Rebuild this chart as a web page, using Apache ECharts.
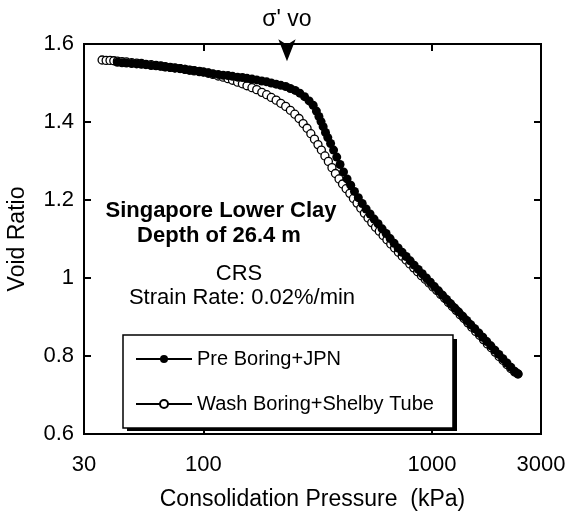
<!DOCTYPE html>
<html>
<head>
<meta charset="utf-8">
<script src="https://cdn.jsdelivr.net/npm/echarts@6/dist/echarts.min.js"></script>
<style>
  html, body { margin: 0; padding: 0; background: #fff; }
  #chart { width: 571px; height: 512px; }
</style>
</head>
<body>
<div id="chart"></div>
<script>
// pressure (kPa), void ratio
const preBoringJPN = [
  [42, 1.553], [44, 1.552], [46, 1.551], [48.5, 1.550], [51, 1.549], [53.5, 1.548], [56, 1.547],
  [59, 1.545], [62, 1.544], [65, 1.543], [68, 1.541], [71.5, 1.540], [75, 1.538], [79, 1.537],
  [83, 1.535], [87, 1.533], [91, 1.532], [96, 1.530], [100, 1.528], [105, 1.526], [110, 1.524],
  [116, 1.522], [122, 1.520], [128, 1.519], [134, 1.517], [141, 1.515], [148, 1.514], [155, 1.512],
  [163, 1.510], [171, 1.508], [180, 1.505], [189, 1.503], [198, 1.500], [208, 1.497], [218, 1.494],
  [229, 1.491], [240, 1.486], [252, 1.481], [264, 1.474], [277, 1.465], [290, 1.454], [302, 1.443],
  [312, 1.428], [320, 1.414], [327, 1.401], [334, 1.388], [342, 1.373], [350, 1.360], [360, 1.345],
  [371, 1.328], [383, 1.310], [396, 1.291], [410, 1.272], [425, 1.254], [441, 1.238], [458, 1.222],
  [476, 1.206], [495, 1.191], [515, 1.177], [536, 1.164], [558, 1.151], [581, 1.139], [605, 1.126],
  [630, 1.114], [656, 1.101], [683, 1.089], [711, 1.077], [740, 1.066], [771, 1.055], [803, 1.044],
  [836, 1.033], [871, 1.022], [907, 1.011], [945, 1.000], [984, 0.989], [1025, 0.978], [1068, 0.967],
  [1112, 0.956], [1158, 0.945], [1206, 0.934], [1256, 0.923], [1308, 0.913], [1362, 0.902],
  [1419, 0.891], [1478, 0.880], [1539, 0.870], [1603, 0.859], [1669, 0.848], [1738, 0.837],
  [1810, 0.826], [1885, 0.815], [1963, 0.804], [2044, 0.793], [2129, 0.782], [2217, 0.771],
  [2309, 0.760], [2379, 0.754]
];

const washBoringShelby = [
  [36, 1.559], [37.5, 1.558], [39, 1.558], [40.5, 1.557], [42, 1.556], [44, 1.555], [46, 1.554],
  [48.5, 1.552], [51, 1.551], [53.5, 1.550], [56, 1.548], [59, 1.547], [62, 1.545], [65, 1.544],
  [68, 1.542], [71.5, 1.540], [75, 1.539], [79, 1.537], [83, 1.535], [87, 1.533], [91, 1.531],
  [96, 1.529], [100, 1.528], [105, 1.525], [110, 1.522], [116, 1.518], [122, 1.515], [128, 1.511],
  [134, 1.507], [141, 1.502], [148, 1.498], [155, 1.493], [163, 1.488], [171, 1.483], [180, 1.476],
  [189, 1.470], [198, 1.463], [208, 1.456], [218, 1.448], [229, 1.440], [240, 1.430], [251, 1.420],
  [262, 1.409], [273, 1.396], [284, 1.384], [295, 1.370], [306, 1.356], [317, 1.342], [328, 1.328],
  [340, 1.313], [352, 1.299], [365, 1.283], [378, 1.268], [392, 1.254], [406, 1.241], [421, 1.229],
  [437, 1.217], [453, 1.204], [470, 1.192], [488, 1.179], [506, 1.166], [525, 1.154], [545, 1.142],
  [566, 1.130], [588, 1.120], [611, 1.109], [635, 1.098], [660, 1.087], [686, 1.077], [713, 1.066],
  [741, 1.056], [770, 1.046], [800, 1.036], [832, 1.026], [865, 1.016], [899, 1.006], [934, 0.997],
  [971, 0.987], [1010, 0.977], [1050, 0.968], [1092, 0.958], [1136, 0.948], [1181, 0.937],
  [1228, 0.927], [1277, 0.917], [1328, 0.906], [1381, 0.896], [1436, 0.885], [1493, 0.874],
  [1553, 0.863], [1615, 0.853], [1680, 0.842], [1747, 0.831], [1817, 0.821], [1890, 0.810],
  [1966, 0.799], [2045, 0.789], [2127, 0.778], [2212, 0.768], [2300, 0.759], [2379, 0.754]
];

const seriesNames = ['Pre Boring+JPN', 'Wash Boring+Shelby Tube'];
const sigmaVo = 232;          // kPa, marked by the arrow
const xRange = [30, 3000];
const yRange = [0.6, 1.6];
const notes = [
  { text: 'Singapore Lower Clay', bold: true },
  { text: 'Depth of 26.4 m', bold: true },
  { text: 'CRS', bold: false },
  { text: 'Strain Rate: 0.02%/min', bold: false }
];

const FONT = '"Liberation Sans", Arial, Helvetica, sans-serif';
const chart = echarts.init(document.getElementById('chart'), null, { renderer: 'canvas' });

const tick = { show: true, inside: true, length: 7, lineStyle: { color: '#000', width: 2 } };
const noLine = { show: false };

function xAxis(pos, labels) {
  return {
    type: 'log', logBase: 10, min: xRange[0], max: xRange[1], position: pos,
    axisLine: noLine, axisTick: tick, splitLine: { show: false }, minorTick: { show: false },
    axisLabel: {
      show: labels, color: '#000', fontSize: 22, fontFamily: FONT, margin: 20,
      formatter: function (v) { return String(Math.round(v)); }
    }
  };
}
function yAxis(pos, labels) {
  return {
    type: 'value', min: yRange[0], max: yRange[1], interval: 0.2, position: pos,
    axisLine: noLine, axisTick: tick, splitLine: { show: false },
    axisLabel: { show: labels, color: '#000', fontSize: 22, fontFamily: FONT, margin: 10 }
  };
}

const xa0 = Object.assign(xAxis('bottom', true), {
  name: 'Consolidation Pressure  (kPa)', nameLocation: 'middle', nameGap: 54,
  nameTextStyle: { color: '#000', fontSize: 23, fontFamily: FONT }
});
const ya0 = Object.assign(yAxis('left', true), {
  name: 'Void Ratio', nameLocation: 'middle', nameGap: 55,
  nameTextStyle: { color: '#000', fontSize: 23, fontFamily: FONT }
});

// annotation block (centred text lines)
const noteY = [211, 236, 274, 298];
const noteX = [221, 219, 239, 242];
const graphics = notes.map(function (n, i) {
  return {
    type: 'text', x: noteX[i], y: noteY[i], z: 10,
    style: {
      text: n.text, fill: '#000', align: 'center', verticalAlign: 'middle',
      font: (n.bold ? 'bold ' : '') + '22px ' + FONT
    }
  };
});
// legend drop shadow
graphics.push({
  type: 'rect', z: 0, shape: { x: 127, y: 339, width: 330, height: 92 },
  style: { fill: '#000' }
});

chart.setOption({
  animation: false,
  backgroundColor: '#fff',
  grid: {
    left: 84, right: 30, top: 44, bottom: 78, containLabel: false, outerBoundsMode: 'none',
    show: true, borderColor: '#000', borderWidth: 2, backgroundColor: 'transparent'
  },
  xAxis: [xa0, xAxis('top', false)],
  yAxis: [ya0, yAxis('right', false)],
  legend: {
    data: seriesNames,
    orient: 'vertical',
    left: 123, top: 335, z: 5,
    padding: [14, 19, 14, 12],
    itemWidth: 56, itemHeight: 10, itemGap: 25,
    borderColor: '#000', borderWidth: 1.5, backgroundColor: '#fff',
    textStyle: { color: '#000', fontSize: 20, fontFamily: FONT },
    selectedMode: false
  },
  graphic: graphics,
  series: [
    {
      name: seriesNames[1], type: 'line', data: washBoringShelby,
      xAxisIndex: 0, yAxisIndex: 0, showAllSymbol: true,
      symbol: 'circle', symbolSize: 8,
      itemStyle: { color: '#fff', borderColor: '#000', borderWidth: 1.3 },
      lineStyle: { color: '#000', width: 1 }
    },
    {
      name: seriesNames[0], type: 'line', data: preBoringJPN,
      xAxisIndex: 0, yAxisIndex: 0, showAllSymbol: true,
      symbol: 'circle', symbolSize: 9,
      itemStyle: { color: '#000' },
      lineStyle: { color: '#000', width: 1 },
      markPoint: {
        silent: true,
        data: [{
          coord: [sigmaVo, 1.556], symbol: 'arrow', symbolRotate: 180, symbolSize: [13, 22],
          itemStyle: { color: '#000' },
          label: {
            show: true, position: 'top', distance: 8, formatter: "σ' vo",
            color: '#000', fontSize: 23, fontFamily: FONT
          }
        }]
      }
    }
  ]
});
</script>
</body>
</html>
